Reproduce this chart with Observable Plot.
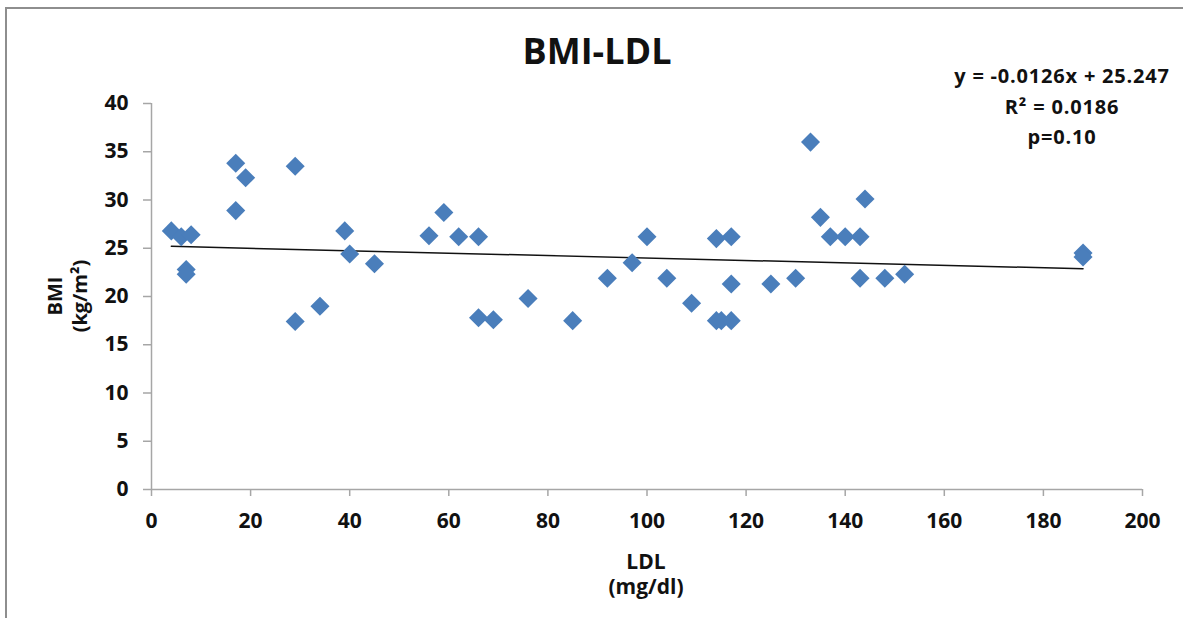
<!DOCTYPE html>
<html>
<head>
<meta charset="utf-8">
<script src="https://cdn.jsdelivr.net/npm/d3@7"></script>
<script src="https://cdn.jsdelivr.net/npm/@observablehq/plot@0.6"></script>
<style>
  body { margin: 0; background: #fff; }
  #wrap { position: relative; width: 1183px; height: 618px; overflow: hidden;
          font-family: "Open Sans", sans-serif; font-weight: 700; color: #111; }
  #wrap svg { position: absolute; left: 0; top: 0; }
  .frame { position: absolute; left: 5px; top: 7px; right: -10px; bottom: -10px;
           border-left: 2px solid #8e8e8e; border-top: 2px solid #8e8e8e; }
  .t { position: absolute; white-space: nowrap; line-height: 1; transform: translateX(-50%); }
  .r { position: absolute; white-space: nowrap; line-height: 1; transform: translate(-50%, -50%) rotate(-90deg); }
  .xl { position: absolute; white-space: pre; line-height: 25px; text-align: center; transform: translateX(-50%); }
</style>
</head>
<body>
<div id="wrap">
  <div class="frame"></div>
</div>
<script>
// LDL (mg/dl) values
const ldl = [4, 6, 8, 7, 7, 17, 19, 17, 29, 29, 34, 39, 40, 45, 56, 59, 62, 66, 66, 69,
             76, 85, 92, 97, 100, 104, 109, 114, 115, 117, 114, 117, 117, 125, 130, 133,
             144, 135, 137, 140, 143, 143, 148, 152, 188, 188];
// BMI (kg/m²) values
const bmi = [26.8, 26.2, 26.4, 22.8, 22.3, 33.8, 32.3, 28.9, 33.5, 17.4, 19.0, 26.8, 24.4, 23.4, 26.3, 28.7, 26.2, 26.2, 17.8, 17.6,
             19.8, 17.5, 21.9, 23.5, 26.2, 21.9, 19.3, 17.5, 17.5, 17.5, 26.0, 26.2, 21.3, 21.3, 21.9, 36.0,
             30.1, 28.2, 26.2, 26.2, 26.2, 21.9, 21.9, 22.3, 24.5, 24.1];
const xTicks = [0, 20, 40, 60, 80, 100, 120, 140, 160, 180, 200];
const yTicks = [0, 5, 10, 15, 20, 25, 30, 35, 40];
// Trendline as stated: y = -0.0126x + 25.247, spanning the data range
const slope = -0.0126, intercept = 25.247;
const trendX = [4, 188];

const points = ldl.map((x, i) => ({x, y: bmi[i]}));
const trend = trendX.map(x => ({x, y: slope * x + intercept}));

const chart = Plot.plot({
  width: 1183,
  height: 618,
  marginLeft: 151,
  marginRight: 41,
  marginTop: 103,
  marginBottom: 129,
  style: { fontFamily: "Open Sans, sans-serif", fontSize: "21px", fontWeight: 700, color: "#111", background: "transparent" },
  x: { domain: [0, 200] },
  y: { domain: [0, 40] },
  marks: [
    Plot.axisX({ ticks: xTicks, tickSize: 7, tickPadding: 17, stroke: "#a6a6a6", strokeWidth: 1.5, fill: "#111", label: null }),
    Plot.axisY({ ticks: yTicks, tickSize: 8, tickPadding: 15, stroke: "#a6a6a6", strokeWidth: 1.5, fill: "#111", label: null }),
    Plot.ruleY([0], { stroke: "#a6a6a6", strokeWidth: 1.5 }),
    Plot.ruleX([0], { stroke: "#a6a6a6", strokeWidth: 1.5 }),
    Plot.line(trend, { x: "x", y: "y", stroke: "#111", strokeWidth: 1.5 }),
    Plot.dot(points, { x: "x", y: "y", symbol: "square", rotate: 45, r: 7.6, fill: "#4a7ebb", stroke: "none" })
  ]
});
const wrap = document.getElementById("wrap");
wrap.appendChild(chart);

function addText(cls, txt, left, top, size) {
  const d = document.createElement("div");
  d.className = cls;
  d.textContent = txt;
  d.style.left = left + "px";
  d.style.top = top + "px";
  d.style.fontSize = size + "px";
  wrap.appendChild(d);
  return d;
}
addText("t", "BMI-LDL", 597, 33, 36);
const a1 = addText("t", "y = -0.0126x + 25.247", 1062, 66, 20); a1.style.letterSpacing = "0.8px";
const a2 = addText("t", "R² = 0.0186", 1062, 97, 20); a2.style.letterSpacing = "0.8px";
const a3 = addText("t", "p=0.10", 1062, 127, 20); a3.style.letterSpacing = "0.8px";
addText("xl", "LDL\n(mg/dl)", 646, 549, 21);
addText("r", "BMI", 55, 296, 20);
addText("r", "(kg/m²)", 80, 296, 20);
</script>
</body>
</html>
